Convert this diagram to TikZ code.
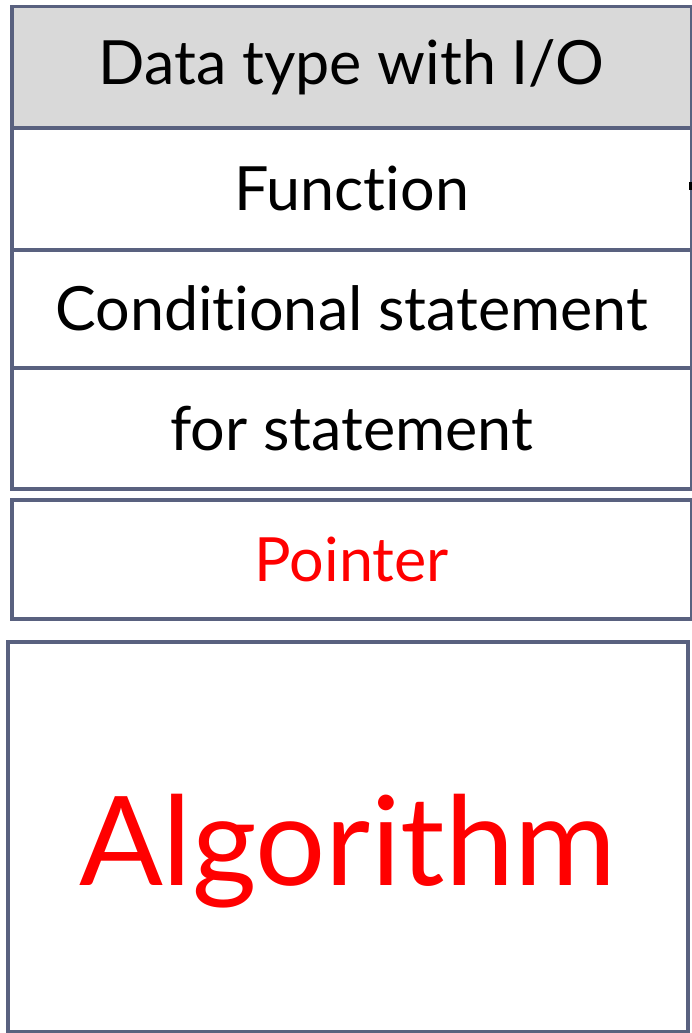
\documentclass[tikz,border=0pt]{standalone}
\usepackage{fontspec}
\setmainfont[RawFeature={-liga;-dlig;-clig}]{Lato}
\definecolor{frame}{HTML}{59617F}
\definecolor{headfill}{HTML}{D9D9D9}
\definecolor{hot}{HTML}{FF0000}
\begin{document}
\begin{tikzpicture}[x=1pt,y=-1pt,
  cell/.style={draw=frame,line width=3.5pt,inner sep=0pt,minimum width=680pt,anchor=north west,font=\fontsize{61}{63}\selectfont},
  ]
  \useasboundingbox (0,0) rectangle (692,1033);
  % stacked topic rows
  \node[cell,fill=headfill,minimum height=121pt] (head) at (10,5) {\raisebox{-3pt}{Data type with I/O}};
  \node[cell,minimum height=122pt] (func) at (10,126) {Function};
  \node[cell,minimum height=118pt] (cond) at (10,248) {Conditional statement};
  \node[cell,minimum height=121pt] (loop) at (10,366) {for statement};
  % highlighted topics
  \node[cell,minimum height=119pt,text=hot] (ptr) at (10,498) {Pointer};
  \node[cell,minimum height=390pt] (algo) at (6,640) {};
  \node[text=hot,inner sep=0pt,font=\fontsize{124}{126}\selectfont] (algotext)
    at ([yshift=-14pt]algo.center) {Algorithm};
  % small tick on the right edge
  \fill[black] (689,182) rectangle (692,190);
\end{tikzpicture}
\end{document}
